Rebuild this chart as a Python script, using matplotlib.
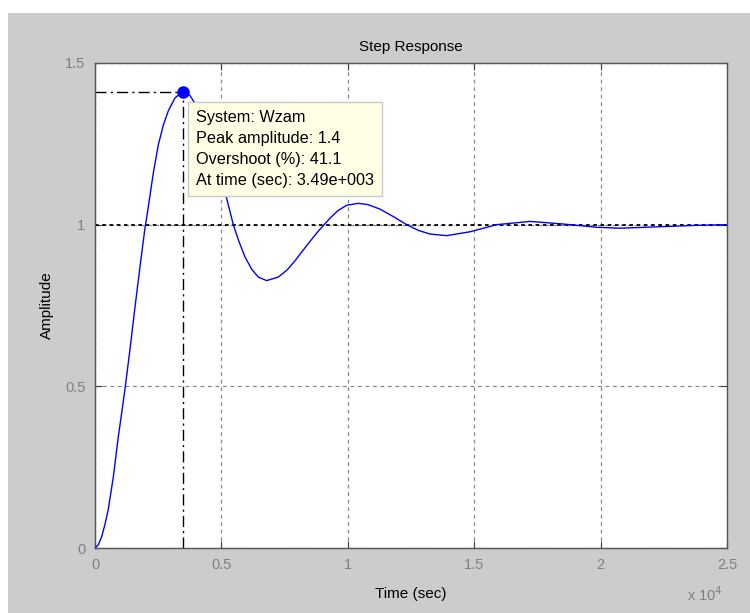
import matplotlib
matplotlib.use("Agg")
import matplotlib.pyplot as plt
from matplotlib.patches import Rectangle
from matplotlib.ticker import FuncFormatter

# step response (time in sec, amplitude)
time_sec = [0, 130, 264, 400, 527, 725, 923, 1060, 1200, 1385, 1582, 1780,
            1912, 1978, 2080, 2175, 2307, 2505, 2703, 2900, 3165, 3429, 3490,
            3750, 4000, 4250, 4500, 4750, 5075, 5274, 5471, 5670, 5934, 6200,
            6460, 6790, 7250, 7600, 7910, 8400, 8834, 9296, 9600, 9955, 10416,
            10800, 11274, 11800, 12330, 12800, 13251, 13910, 14834, 15890,
            17207, 18525, 19843, 20767, 22480, 23800, 25000]
amplitude = [0, 0.01, 0.035, 0.075, 0.12, 0.22, 0.345, 0.42, 0.5, 0.615,
             0.745, 0.87, 0.95, 0.99, 1.04, 1.09, 1.16, 1.247, 1.308, 1.352,
             1.392, 1.409, 1.411, 1.40, 1.37, 1.325, 1.265, 1.195, 1.123, 1.061,
             1.0, 0.953, 0.9, 0.862, 0.838, 0.827, 0.838, 0.86, 0.888, 0.938,
             0.98, 1.02, 1.043, 1.06, 1.066, 1.062, 1.048, 1.025, 1.0, 0.982,
             0.971, 0.966, 0.978, 1.0, 1.01, 1.002, 0.992, 0.989, 0.994, 0.998,
             1.0]

peak_time = 3490
peak_amp = 1.411
final_value = 1.0
tip_lines = ["System: Wzam", "Peak amplitude: 1.4", "Overshoot (%): 41.1",
             "At time (sec): 3.49e+003"]

x_ticks = [0, 5000, 10000, 15000, 20000, 25000]
y_ticks = [0, 0.5, 1, 1.5]

plt.rcParams['font.family'] = ['Liberation Sans', 'DejaVu Sans']
tick_gray = '#808080'
narrow = ['Liberation Sans Narrow', 'Liberation Sans']

fig = plt.figure(figsize=(7.5, 6.13), dpi=100, facecolor='white')
fig.patches.append(Rectangle((8 / 750, 0), 1, (613 - 13) / 613,
                             transform=fig.transFigure, facecolor='#cccccc',
                             edgecolor='none', zorder=-10))
ax = fig.add_axes([95 / 750, 65 / 613, 632 / 750, 485 / 613])
ax.set_facecolor('white')

ax.set_xlim(0, 25000)
ax.set_ylim(0, 1.5)
ax.set_xticks(x_ticks)
ax.set_yticks(y_ticks)
ax.xaxis.set_major_formatter(FuncFormatter(lambda v, p: f"{v / 1e4:g}"))
ax.yaxis.set_major_formatter(FuncFormatter(lambda v, p: f"{v:g}"))
ax.tick_params(direction='in', length=5, color='#404040', labelcolor=tick_gray,
               labelsize=10.5, top=True, right=True, pad=7)
for s in ax.spines.values():
    s.set_color('#555555')
    s.set_linewidth(1.0)

ax.grid(True, color='#888888', linestyle=(0, (3, 3)), linewidth=0.9)
ax.set_axisbelow(True)

# steady-state line
ax.axhline(final_value, color='black', linestyle=(0, (2, 2)), linewidth=1.3,
           zorder=2)

ax.plot(time_sec, amplitude, color='#0000ff', linewidth=1.0, zorder=3)

# peak marker with dash-dot guides
ax.plot([0, peak_time], [peak_amp, peak_amp], color='black',
        linestyle=(0, (8, 3, 1.5, 3)), linewidth=1.0, zorder=2)
ax.plot([peak_time, peak_time], [0, peak_amp], color='black',
        linestyle=(0, (8, 3, 1.5, 3)), linewidth=1.0, zorder=2)
ax.plot(peak_time, peak_amp, 'o', color='#0000ff', markersize=8, zorder=4)

ax.text(peak_time + 500, 1.355, "\n".join(tip_lines), fontsize=11.7,
        va='top', ha='left', color='black', linespacing=1.5, zorder=5,
        bbox=dict(boxstyle='square,pad=0.5', facecolor='#ffffe6',
                  edgecolor='#c8c8c8', linewidth=1.0))

ax.set_title("Step Response", fontsize=11, pad=9, family=narrow)
ax.set_xlabel("Time (sec)", fontsize=11, labelpad=11, family=narrow)
ax.set_ylabel("Amplitude", fontsize=11, labelpad=8, family=narrow)
fig.text(705 / 750, 1 - 595 / 613, r"x 10$^{4}$", color=tick_gray,
         fontsize=10.5, ha='center', va='center')

fig.savefig("out.png", dpi=100, facecolor=fig.get_facecolor())
